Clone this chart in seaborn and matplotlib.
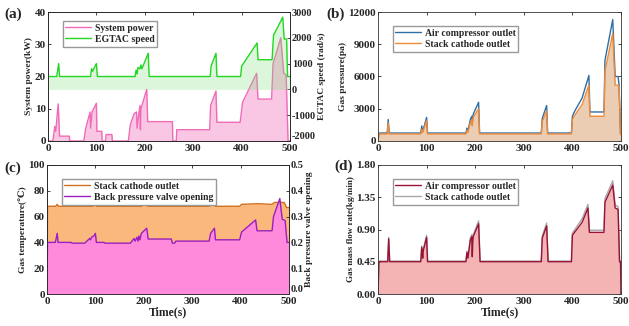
import numpy as np
import pandas as pd
import matplotlib
matplotlib.use("Agg")
import matplotlib.pyplot as plt
import seaborn as sns

# ---------------- data ----------------
# (a) system power (kW)
pw_t = [0, 10, 14, 16, 21, 24, 44, 45, 74, 78, 87, 88, 91, 100, 101, 111, 112, 119, 120, 132, 133,
        166, 170, 178, 183, 184, 190, 191, 192, 204, 206, 257, 258, 265, 266, 334, 336, 347, 349,
        397, 402, 431, 434, 462, 465, 481, 487, 492, 496, 500]
pw_v = [0, 0, 4.5, 3, 11.5, 1.5, 1.5, 0, 0, 4, 9, 4, 9, 11.7, 3, 3, 0, 0, 2, 2, 0,
        0, 5, 8.5, 9, 4, 11, 3.5, 10, 16, 6, 6, 0, 0, 3.5, 3.5, 11, 15.5, 5.8,
        5.8, 12, 21, 13, 13, 24, 32, 21, 20.5, 0, 0]
# (a) EGTAC speed (rad/s)
sp_t = [0, 18, 22, 24, 88, 90, 92, 100, 102, 180, 182, 184, 186, 190, 192, 194, 207, 209,
        335, 337, 347, 349, 398, 400, 432, 434, 463, 466, 485, 488, 493, 495, 500]
sp_v = [500, 500, 1000, 500, 500, 800, 700, 1000, 500, 500, 750, 600, 850, 800, 950, 800, 1400, 500,
        500, 900, 1400, 500, 500, 900, 1800, 1150, 1150, 2100, 2800, 1950, 1950, 500, 500]
# (b) gas pressure (pa)
pr_t = [0, 2, 19, 21, 23, 88, 90, 92, 97, 100, 102, 181, 183, 185, 190, 193, 194, 195, 196, 207, 209,
        336, 338, 347, 349, 398, 400, 405, 420, 434, 436, 465, 467, 483, 488, 494, 496, 499, 500]
pr_air = [0, 740, 740, 2000, 740, 740, 1400, 900, 1700, 2200, 740, 740, 1200, 900, 2000, 2300, 1600, 2200, 2500, 3600, 740,
          740, 2100, 3300, 740, 740, 2300, 2800, 4000, 6100, 2700, 2700, 7500, 11300, 6000, 6000, 5200, 700, 700]
pr_stack = [0, 650, 650, 1700, 650, 650, 1100, 800, 1500, 1900, 650, 650, 1000, 800, 1700, 2000, 1400, 1900, 2200, 3000, 650,
            650, 1800, 2800, 650, 650, 2000, 2400, 3400, 5200, 2300, 2300, 6500, 10000, 5200, 5200, 5100, 600, 600]
# (c) gas temperature (°C)
tp_t = [0, 1, 18, 21, 24, 95, 100, 103, 195, 205, 208, 335, 345, 348, 398, 402, 435, 465, 470, 490, 495, 500]
tp_v = [0, 68, 68, 69.5, 68, 68, 69.5, 68, 68, 70, 68, 68, 70, 68, 68, 69.5, 70, 69.5, 71, 71, 67, 67]
# (c) back pressure valve opening
vl_t = [0, 1, 17, 19, 21, 23, 50, 52, 78, 88, 90, 92, 97, 100, 102, 118, 120, 172, 180, 182, 186, 188,
        190, 192, 195, 206, 209, 257, 259, 264, 266, 335, 338, 346, 348, 398, 402, 431, 434, 465, 468,
        481, 486, 492, 496, 500]
vl_v = [0, 0.20, 0.20, 0.215, 0.235, 0.20, 0.20, 0.197, 0.197, 0.215, 0.21, 0.22, 0.225, 0.235, 0.20,
        0.20, 0.197, 0.197, 0.215, 0.205, 0.22, 0.205, 0.225, 0.21, 0.235, 0.255, 0.213, 0.213, 0.197,
        0.197, 0.205, 0.205, 0.235, 0.255, 0.21, 0.21, 0.24, 0.287, 0.245, 0.245, 0.30, 0.37, 0.29,
        0.285, 0.20, 0.20]
# (d) gas mass flow rate (kg/min)
mf_t = [0, 2, 20, 22, 24, 88, 90, 92, 93, 100, 102, 181, 183, 185, 190, 193, 194, 195, 196, 207, 210,
        336, 338, 347, 350, 398, 400, 420, 432, 435, 465, 467, 483, 488, 494, 497, 499, 500]
mf_air = [0, 0.45, 0.45, 0.77, 0.45, 0.45, 0.65, 0.5, 0.6, 0.79, 0.45, 0.45, 0.58, 0.5, 0.75, 0.8, 0.52, 0.72, 0.8, 0.98, 0.45,
          0.45, 0.78, 0.95, 0.45, 0.45, 0.82, 1.0, 1.2, 0.86, 0.86, 1.28, 1.52, 1.2, 1.18, 0.45, 0.45, 0.0]
mf_stack = [0, 0.46, 0.46, 0.79, 0.46, 0.46, 0.67, 0.52, 0.62, 0.82, 0.46, 0.46, 0.60, 0.52, 0.78, 0.83, 0.55, 0.75, 0.83, 1.02, 0.46,
            0.46, 0.81, 0.99, 0.46, 0.46, 0.85, 1.05, 1.25, 0.89, 0.89, 1.33, 1.58, 1.24, 1.22, 0.46, 0.46, 0.0]

x_ticks = [0, 100, 200, 300, 400, 500]

# ---------------- style ----------------
sns.set_theme(style="ticks")
plt.rcParams['font.family'] = ['Liberation Serif', 'DejaVu Serif']
plt.rcParams['font.weight'] = 'bold'
plt.rcParams['axes.labelweight'] = 'bold'
plt.rcParams['axes.linewidth'] = 0.6
plt.rcParams['xtick.direction'] = 'in'
plt.rcParams['ytick.direction'] = 'in'
plt.rcParams['xtick.major.size'] = 2.5
plt.rcParams['ytick.major.size'] = 2.5
plt.rcParams['xtick.major.width'] = 0.6
plt.rcParams['ytick.major.width'] = 0.6
plt.rcParams['xtick.labelsize'] = 8
plt.rcParams['ytick.labelsize'] = 8
plt.rcParams['axes.labelsize'] = 6.8
plt.rcParams['axes.unicode_minus'] = False

fig = plt.figure(figsize=(6.29, 3.26), dpi=100)
W, H = 629, 326


def make_ax(l, t, r, b):
    return fig.add_axes([l / W, 1 - b / H, (r - l) / W, (b - t) / H])


ax_a = make_ax(48, 12, 290, 141)
ax_b = make_ax(378, 12, 621, 141)
ax_c = make_ax(47, 165, 289, 294)
ax_d = make_ax(378, 165, 621, 294)

leg_kw = dict(loc='upper left', frameon=True, fancybox=False, edgecolor='#999999',
              framealpha=1, handlelength=2.6, borderpad=0.3, labelspacing=0.2, handletextpad=0.4,
              prop={'weight': 'bold', 'size': 7, 'family': 'Liberation Serif'})


def style_box(ax, right_ticks=True):
    ax.tick_params(top=True, right=right_ticks, pad=1.5)
    ax.tick_params(axis='x', pad=2.5)
    for s in ax.spines.values():
        s.set_visible(True)
        s.set_color('#333333')
        s.set_linewidth(0.6)
    for lab in ax.get_xticklabels() + ax.get_yticklabels():
        lab.set_fontweight('bold')


def style_twin(ax):
    ax.tick_params(right=True, direction='in', pad=1.5, labelsize=7.5)
    labs = ax.get_yticklabels()
    for lab in labs:
        lab.set_fontweight('bold')
    labs[0].set_verticalalignment('bottom')


# ---------------- (a) ----------------
df_pw = pd.DataFrame({'t': pw_t, 'v': pw_v})
df_sp = pd.DataFrame({'t': sp_t, 'v': sp_v})
ax_a.fill_between(df_pw['t'], 0, df_pw['v'], color='#F9C6E4', lw=0)
sns.lineplot(data=df_pw, x='t', y='v', ax=ax_a, color='#F06AB8', lw=1.0, label='System power',
             legend=False, sort=False)
ax_a.set_xlim(0, 500)
ax_a.set_ylim(0, 40)
ax_a.set_yticks([0, 10, 20, 30, 40])
ax_a.set_xticks(x_ticks)
ax_a.set_xlabel('')
ax_a.set_ylabel('System power(kW)', labelpad=1)
style_box(ax_a, right_ticks=False)

ax_a2 = ax_a.twinx()
ax_a2.fill_between(df_sp['t'], 0, df_sp['v'], color='#7FE07A', alpha=0.28, lw=0)
sns.lineplot(data=df_sp, x='t', y='v', ax=ax_a2, color='#22D622', lw=1.0, label='EGTAC speed',
             legend=False, sort=False)
ax_a2.set_ylim(-2000, 3000)
ax_a2.set_yticks([-2000, -1000, 0, 1000, 2000, 3000])
ax_a2.set_ylabel('EGTAC speed (rad/s)', labelpad=1)
ax_a2.set_xlim(0, 500)
style_twin(ax_a2)
h1, lb1 = ax_a.get_legend_handles_labels()
h2, lb2 = ax_a2.get_legend_handles_labels()
ax_a2.legend(h1 + h2, lb1 + lb2, bbox_to_anchor=(0.04, 0.97), **leg_kw)

# ---------------- (b) ----------------
df_pr = pd.DataFrame({'t': pr_t, 'air': pr_air, 'stack': pr_stack})
ax_b.fill_between(df_pr['t'], 0, df_pr['stack'], color='#EACDB3', lw=0)
sns.lineplot(data=df_pr, x='t', y='air', ax=ax_b, color='#2F6EA5', lw=1.0,
             label='Air compressor outlet', sort=False)
sns.lineplot(data=df_pr, x='t', y='stack', ax=ax_b, color='#F08A36', lw=1.0,
             label='Stack cathode outlet', sort=False)
ax_b.set_xlim(0, 500)
ax_b.set_ylim(0, 12000)
ax_b.set_yticks([0, 3000, 6000, 9000, 12000])
ax_b.set_xticks(x_ticks)
ax_b.set_xlabel('')
ax_b.set_ylabel('Gas pressure(pa)', labelpad=1)
style_box(ax_b)
ax_b.legend(bbox_to_anchor=(0.04, 0.93), **leg_kw)

# ---------------- (c) ----------------
df_tp = pd.DataFrame({'t': tp_t, 'v': tp_v})
df_vl = pd.DataFrame({'t': vl_t, 'v': vl_v})
ax_c.fill_between(df_tp['t'], 0, df_tp['v'], color='#FBB87C', lw=0)
sns.lineplot(data=df_tp, x='t', y='v', ax=ax_c, color='#D0701E', lw=1.0,
             label='Stack cathode outlet', legend=False, sort=False)
ax_c.set_xlim(0, 500)
ax_c.set_ylim(0, 100)
ax_c.set_yticks([0, 20, 40, 60, 80, 100])
ax_c.set_xticks(x_ticks)
ax_c.set_xlabel('Time(s)', fontsize=8.5, labelpad=0)
ax_c.set_ylabel('Gas temperature(\u2103)', labelpad=1)
style_box(ax_c, right_ticks=False)

ax_c2 = ax_c.twinx()
ax_c2.fill_between(df_vl['t'], 0, df_vl['v'], color='#FF8ADC', lw=0)
sns.lineplot(data=df_vl, x='t', y='v', ax=ax_c2, color='#9A1EC2', lw=1.0,
             label='Back pressure valve opening', legend=False, sort=False)
ax_c2.set_ylim(0, 0.5)
ax_c2.set_yticks([0.0, 0.1, 0.2, 0.3, 0.4, 0.5])
ax_c2.set_yticklabels(['0.0', '0.1', '0.2', '0.3', '0.4', '0.5'])
ax_c2.set_xlim(0, 500)
ax_c2.set_ylabel('Back pressure valve opening', labelpad=1)
style_twin(ax_c2)
h1, lb1 = ax_c.get_legend_handles_labels()
h2, lb2 = ax_c2.get_legend_handles_labels()
ax_c2.legend(h1 + h2, lb1 + lb2, bbox_to_anchor=(0.04, 0.93), **leg_kw)

# ---------------- (d) ----------------
df_mf = pd.DataFrame({'t': mf_t, 'air': mf_air, 'stack': mf_stack})
ax_d.fill_between(df_mf['t'], 0, df_mf['air'], color='#F5B4B4', lw=0)
sns.lineplot(data=df_mf, x='t', y='stack', ax=ax_d, color='#A8A8A8', lw=1.0,
             label='Stack cathode outlet', legend=False, sort=False)
sns.lineplot(data=df_mf, x='t', y='air', ax=ax_d, color='#9B1035', lw=1.0,
             label='Air compressor outlet', legend=False, sort=False)
ax_d.set_xlim(0, 500)
ax_d.set_ylim(0, 1.8)
ax_d.set_yticks([0, 0.45, 0.9, 1.35, 1.8])
ax_d.set_yticklabels(['0.00', '0.45', '0.90', '1.35', '1.80'])
ax_d.set_xticks(x_ticks)
ax_d.set_xlabel('Time(s)', fontsize=8.5, labelpad=0)
ax_d.set_ylabel('Gas mass flow rate(kg/min)', labelpad=1, fontsize=6.5)
style_box(ax_d)
h, lb = ax_d.get_legend_handles_labels()
ax_d.legend(h[::-1], lb[::-1], bbox_to_anchor=(0.04, 0.93), **leg_kw)

# panel labels
for txt, x, y in [('(a)', 4, 14), ('(b)', 326, 14), ('(c)', 4, 168), ('(d)', 334, 166)]:
    fig.text(x / W, 1 - y / H, txt, fontsize=11, fontweight='bold', ha='left', va='center')

fig.savefig('out.png', dpi=100)
